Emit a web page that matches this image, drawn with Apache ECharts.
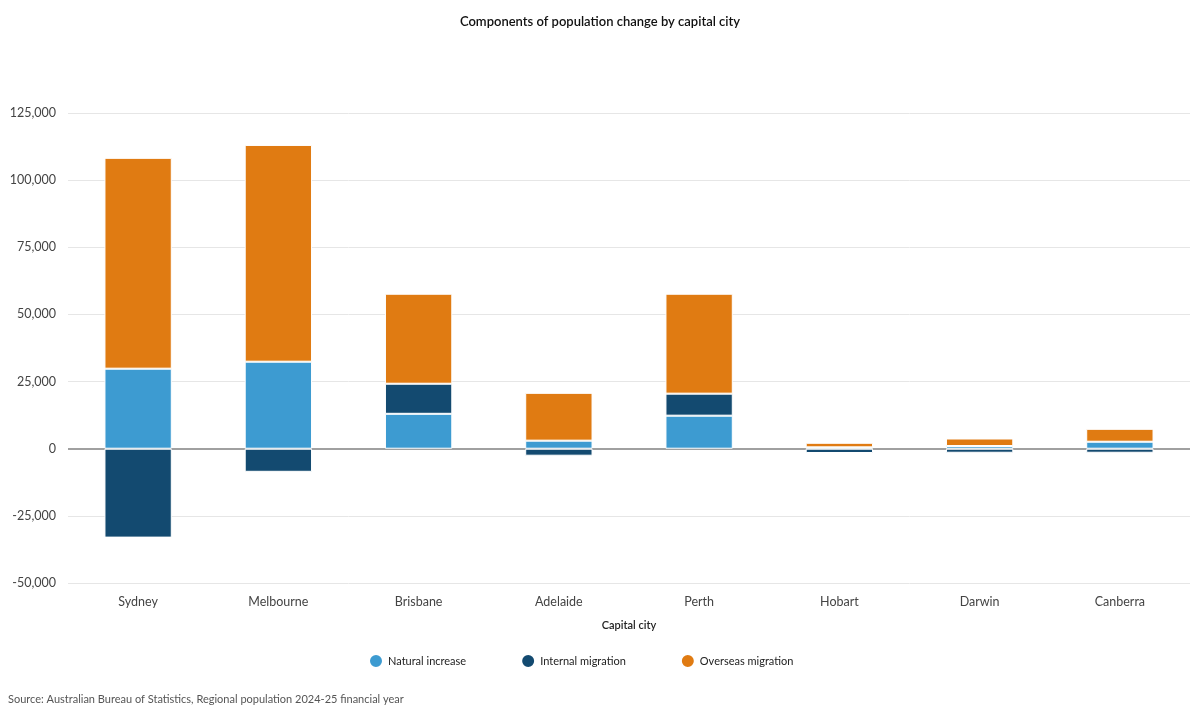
<!DOCTYPE html>
<html><head><meta charset="utf-8">
<script src="https://cdn.jsdelivr.net/npm/echarts@6/dist/echarts.min.js"></script>
<style>html,body{margin:0;padding:0;background:#fff}#c{width:1200px;height:720px}</style>
</head><body><div id="c"></div>
<script>
const categories = ['Sydney','Melbourne','Brisbane','Adelaide','Perth','Hobart','Darwin','Canberra'];
const naturalIncrease = [29800, 32400, 13000, 3000, 12300, 500, 1000, 2600];
const internalMigration = [-33100, -8600, 11200, -2600, 8200, -1600, -1500, -1500];
const overseasMigration = [78500, 80700, 33500, 17800, 37200, 1700, 2800, 4800];
const yTicks = {min: -50000, max: 125000, interval: 25000};

const font = "Lato, 'Open Sans', sans-serif";
const chart = echarts.init(document.getElementById('c'));
const mk = (name, data, color) => ({
  name, type: 'bar', stack: 'total', data, barWidth: '48%',
  itemStyle: {color, borderColor: '#fff', borderWidth: 1},
  emphasis: {disabled: true}
});
chart.setOption({
  animation: false,
  textStyle: {fontFamily: font},
  title: [{
    text: 'Components of population change by capital city', left: 'center', top: 10,
    textStyle: {fontSize: 13, fontWeight: 600, color: '#111', fontFamily: font}
  }, {
    text: 'Source: Australian Bureau of Statistics, Regional population 2024-25 financial year',
    left: 3, top: 689, textStyle: {fontSize: 11, fontWeight: 'normal', color: '#555', fontFamily: font}
  }],
  legend: {
    bottom: 46, left: 363, icon: 'circle', itemWidth: 14, itemHeight: 14, itemGap: 54,
    textStyle: {fontSize: 11, color: '#222', fontFamily: font},
    data: ['Natural increase', 'Internal migration', 'Overseas migration']
  },
  grid: {left: 68, right: 10, top: 113, bottom: 137},
  xAxis: {
    type: 'category', data: categories,
    name: 'Capital city', nameLocation: 'middle', nameGap: 37,
    nameTextStyle: {fontSize: 11, color: '#222', fontWeight: 600},
    axisLine: {show: false}, axisTick: {show: false},
    axisLabel: {fontSize: 12.5, color: '#444', margin: 12}
  },
  yAxis: {
    type: 'value', min: yTicks.min, max: yTicks.max, interval: yTicks.interval,
    axisLabel: {fontSize: 12.5, color: '#444', margin: 12,
      formatter: v => v.toLocaleString('en-US')},
    axisLine: {show: false}, axisTick: {show: false},
    splitLine: {lineStyle: {color: '#e6e6e6', width: 1}}
  },
  series: [
    mk('Natural increase', naturalIncrease, '#3d9bd1'),
    mk('Internal migration', internalMigration, '#134a70'),
    Object.assign(mk('Overseas migration', overseasMigration, '#e07b12'), {
      markLine: {
        silent: true, symbol: 'none', label: {show: false},
        lineStyle: {color: '#a0a0a0', width: 2, type: 'solid'},
        data: [{yAxis: 0}], z: 1
      }
    })
  ]
});
</script></body></html>
